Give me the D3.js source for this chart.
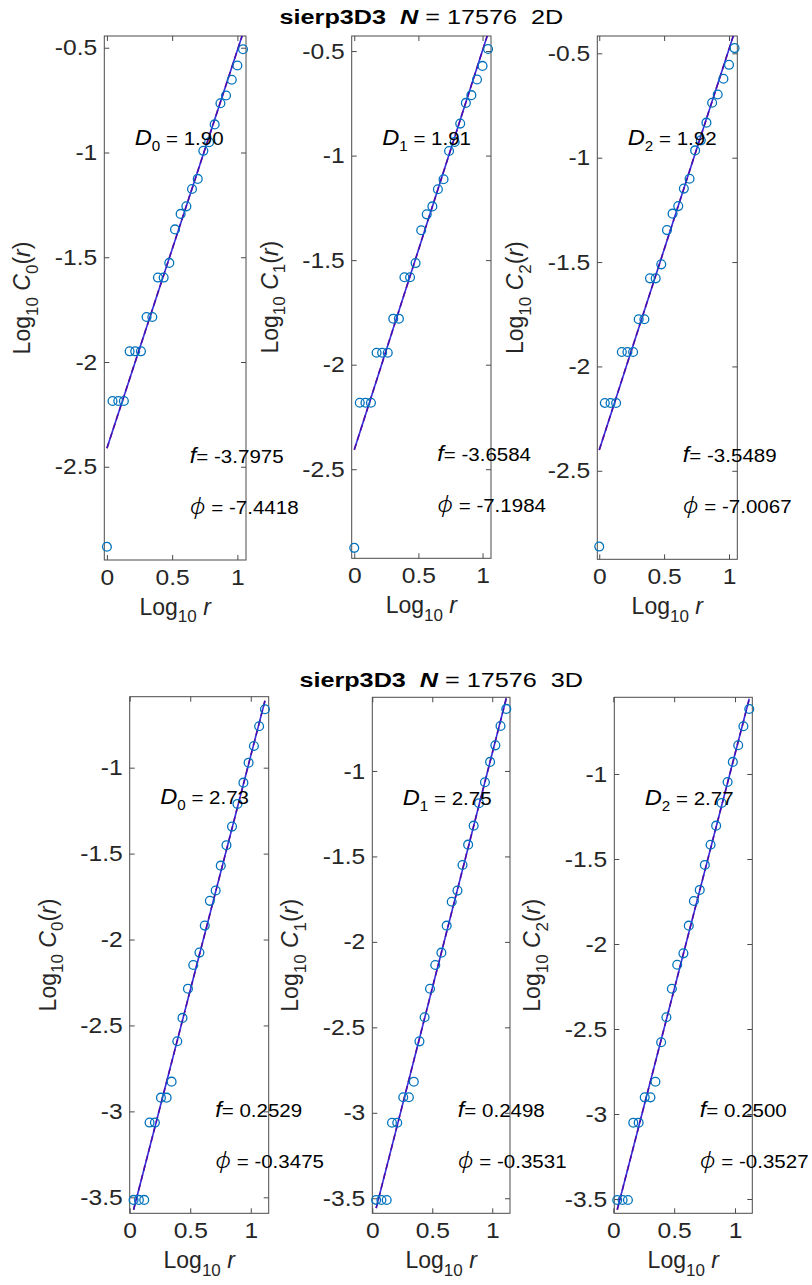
<!DOCTYPE html>
<html>
<head>
<meta charset="utf-8">
<script src="https://cdn.jsdelivr.net/npm/d3@7"></script>
<style>
  body { margin: 0; background: #ffffff; }
  svg { display: block; font-family: "Liberation Sans", Arial, Helvetica, sans-serif; }
</style>
</head>
<body>
<svg id="fig" width="812" height="1285"></svg>
<script>
// ---- data: log10 r and log10 C_q(r) for the sierp3D3 set ----
const logR2D = [0, 0.043, 0.087, 0.130, 0.174, 0.217, 0.261, 0.304, 0.348, 0.391, 0.435, 0.478, 0.522,
                0.565, 0.609, 0.652, 0.696, 0.739, 0.783, 0.826, 0.870, 0.913, 0.957, 1.000, 1.043];
const logC0_2D = [-2.882, -2.186, -2.186, -2.186, -1.949, -1.949, -1.949, -1.785, -1.785, -1.597, -1.597, -1.527, -1.367,
                  -1.293, -1.257, -1.174, -1.126, -0.992, -0.951, -0.866, -0.765, -0.728, -0.653, -0.585, -0.507];
const logC1_2D = [-2.876, -2.182, -2.182, -2.182, -1.943, -1.943, -1.943, -1.780, -1.780, -1.582, -1.582, -1.514, -1.357,
                  -1.281, -1.243, -1.161, -1.113, -0.978, -0.935, -0.847, -0.748, -0.711, -0.636, -0.571, -0.490];
const logC2_2D = [-2.863, -2.175, -2.175, -2.175, -1.931, -1.931, -1.931, -1.774, -1.774, -1.578, -1.578, -1.511, -1.347,
                  -1.268, -1.232, -1.148, -1.101, -0.965, -0.917, -0.832, -0.737, -0.697, -0.622, -0.555, -0.475];

const logR3D = [0.032, 0.076, 0.120, 0.164, 0.208, 0.258, 0.305, 0.346, 0.393, 0.436, 0.481, 0.525, 0.576,
                0.620, 0.662, 0.710, 0.752, 0.799, 0.845, 0.890, 0.939, 0.982, 1.026, 1.069, 1.117];
const logC0_3D = [-3.515, -3.515, -3.515, -3.065, -3.065, -2.920, -2.920, -2.827, -2.592, -2.456, -2.286, -2.148, -2.076,
                  -1.919, -1.775, -1.715, -1.570, -1.451, -1.343, -1.211, -1.087, -0.971, -0.874, -0.759, -0.660];
const logC1_3D = [-3.510, -3.510, -3.510, -3.058, -3.058, -2.909, -2.909, -2.818, -2.582, -2.441, -2.274, -2.135, -2.063,
                  -1.905, -1.765, -1.700, -1.550, -1.431, -1.320, -1.189, -1.066, -0.947, -0.850, -0.737, -0.637];
const logC2_3D = [-3.506, -3.506, -3.506, -3.051, -3.051, -2.902, -2.902, -2.810, -2.578, -2.431, -2.263, -2.122, -2.055,
                  -1.892, -1.747, -1.682, -1.535, -1.416, -1.304, -1.171, -1.047, -0.929, -0.831, -0.719, -0.618];

// fitted lines: log10 C_q = intercept + D_q * log10 r
const slopes2D = [1.90, 1.91, 1.92];
const intercepts2D = [-2.412, -2.407, -2.400];
const slopes3D = [2.73, 2.75, 2.77];
const intercepts3D = [-3.660, -3.646, -3.652];

const fLabels2D = ["-3.7975", "-3.6584", "-3.5489"];
const phiLabels2D = ["-7.4418", "-7.1984", "-7.0067"];
const fLabels3D = ["0.2529", "0.2498", "0.2500"];
const phiLabels3D = ["-0.3475", "-0.3531", "-0.3527"];

const qOrders = ["0", "1", "2"];
const setName = "sierp3D3";
const pointCount = "17576";

const xTicks = [0, 0.5, 1];
const xTickLabels = ["0", "0.5", "1"];
const yTicks2D = [-2.5, -2, -1.5, -1, -0.5];
const yTickLabels2D = ["-2.5", "-2", "-1.5", "-1", "-0.5"];
const yTicks3D = [-3.5, -3, -2.5, -2, -1.5, -1];
const yTickLabels3D = ["-3.5", "-3", "-2.5", "-2", "-1.5", "-1"];

// ---- layout ----
const svg = d3.select("#fig");
const INK = "#262626";
const MARKER = "#0072BD";
const TICK_SIZE = 22, TICK_SX = 1.12;
const LABEL_SIZE = 23;
const NOTE_SIZE = 19, NOTE_SX = 1.08;
const TITLE_SIZE = 21, TITLE_SX = 1.2;

const figures = [
  {
    tag: "2D", titleX: 421.4, titleY: 24,
    logR: logR2D, series: [logC0_2D, logC1_2D, logC2_2D],
    slopes: slopes2D, intercepts: intercepts2D,
    fLabels: fLabels2D, phiLabels: phiLabels2D,
    yTicks: yTicks2D, yTickLabels: yTickLabels2D,
    xDom: [[-0.02, 1.066], [-0.02, 1.066], [-0.015, 1.064]],
    frames: [
      { x: 104.3, y: 36, w: 141.7, h: 524.0, yDom: [-2.945, -0.444] },
      { x: 351.7, y: 36, w: 139.3, h: 522.3, yDom: [-2.926, -0.428] },
      { x: 597.3, y: 36, w: 140.0, h: 523.3, yDom: [-2.924, -0.417] }
    ]
  },
  {
    tag: "3D", titleX: 441.2, titleY: 686.7,
    logR: logR3D, series: [logC0_3D, logC1_3D, logC2_3D],
    slopes: slopes3D, intercepts: intercepts3D,
    fLabels: fLabels3D, phiLabels: phiLabels3D,
    yTicks: yTicks3D, yTickLabels: yTickLabels3D,
    xDom: [[0, 1.148], [0, 1.148], [0.008, 1.142]],
    frames: [
      { x: 129.7, y: 696.7, w: 139.0, h: 516.6, yDom: [-3.593, -0.587] },
      { x: 372.3, y: 697.3, w: 137.7, h: 516.0, yDom: [-3.588, -0.569] },
      { x: 614.3, y: 697.3, w: 138.0, h: 516.0, yDom: [-3.584, -0.549] }
    ]
  }
];

// Text built from styled runs; runs marked "sub" drop below the baseline.
function richText(parent, runs, o) {
  const size = o.size;
  const subShift = size * 0.32;
  const t = parent.append("text")
    .attr("font-size", size)
    .attr("fill", o.fill || INK)
    .attr("text-anchor", o.anchor || "start")
    .attr("transform", o.transform)
    .style("white-space", "pre");
  let down = false;
  runs.forEach(r => {
    const s = t.append("tspan").text(r.t);
    if (r.it) s.attr("font-style", "italic");
    if (r.b) s.attr("font-weight", "bold");
    if (r.w) s.attr("font-weight", r.w);
    if (r.size) s.attr("font-size", r.size);
    if (r.family) s.attr("font-family", r.family);
    if (r.sub) {
      s.attr("font-size", size * 0.74);
      if (!down) { s.attr("dy", subShift); down = true; }
    } else if (down) {
      s.attr("dy", -subShift); down = false;
    }
  });
  return t;
}

figures.forEach(fig => {
  // figure title over the middle panel
  richText(svg, [
    { t: setName, b: true },
    { t: "  " },
    { t: "N", b: true, it: true },
    { t: " = " + pointCount + "  " + fig.tag }
  ], { size: TITLE_SIZE, anchor: "middle", fill: "#000",
       transform: `translate(${fig.titleX},${fig.titleY}) scale(${TITLE_SX},1)` });

  fig.frames.forEach((fr, i) => {
    const g = svg.append("g").attr("transform", `translate(${fr.x},${fr.y})`);
    const x = d3.scaleLinear().domain(fig.xDom[i]).range([0, fr.w]);
    const y = d3.scaleLinear().domain(fr.yDom).range([fr.h, 0]);

    const clipId = `clip-${fig.tag}-${i}`;
    g.append("clipPath").attr("id", clipId)
      .append("rect").attr("width", fr.w).attr("height", fr.h);

    // axes with inward ticks on all four sides
    const styleAxis = sel => {
      sel.select(".domain").remove();
      sel.selectAll(".tick line").attr("stroke", "#4a4a4a").attr("stroke-width", 1);
    };
    g.append("g")
      .call(d3.axisLeft(y).tickValues(fig.yTicks).tickSizeInner(-5).tickSizeOuter(0).tickPadding(7)
        .tickFormat((d, k) => fig.yTickLabels[k]))
      .call(styleAxis)
      .call(sel => sel.selectAll("text")
        .attr("font-size", TICK_SIZE).attr("font-family", null).attr("fill", INK)
        .attr("x", -7 / TICK_SX).attr("transform", `scale(${TICK_SX},1)`));
    g.append("g").attr("transform", `translate(${fr.w},0)`)
      .call(d3.axisRight(y).tickValues(fig.yTicks).tickSizeInner(-5).tickSizeOuter(0).tickFormat(""))
      .call(styleAxis);
    g.append("g").attr("transform", `translate(0,${fr.h})`)
      .call(d3.axisBottom(x).tickValues(xTicks).tickSizeInner(-5).tickSizeOuter(0).tickPadding(9)
        .tickFormat((d, k) => xTickLabels[k]))
      .call(styleAxis)
      .call(sel => sel.selectAll("text")
        .attr("font-size", TICK_SIZE).attr("font-family", null).attr("fill", INK)
        .attr("transform", `scale(${TICK_SX},1)`));
    g.append("g")
      .call(d3.axisTop(x).tickValues(xTicks).tickSizeInner(-5).tickSizeOuter(0).tickFormat(""))
      .call(styleAxis);

    g.append("rect").attr("width", fr.w).attr("height", fr.h)
      .attr("fill", "none").attr("stroke", "#4a4a4a").attr("stroke-width", 1);

    // least-squares fit line, red dashed under blue solid
    const xr = fig.logR;
    const fitPts = [xr[0], xr[xr.length - 1]].map(v => [v, fig.intercepts[i] + fig.slopes[i] * v]);
    const line = d3.line().x(d => x(d[0])).y(d => y(d[1]));
    g.append("path").attr("clip-path", `url(#${clipId})`)
      .attr("d", line(fitPts)).attr("fill", "none")
      .attr("stroke", "#e0102a").attr("stroke-width", 1.6).attr("stroke-dasharray", "6,4");
    g.append("path").attr("clip-path", `url(#${clipId})`)
      .attr("d", line(fitPts)).attr("fill", "none")
      .attr("stroke", "#1a10d8").attr("stroke-width", 1.6).attr("stroke-opacity", 0.88);

    // measured points
    g.selectAll("circle.pt").data(fig.series[i]).join("circle")
      .attr("class", "pt")
      .attr("cx", (d, k) => x(xr[k]))
      .attr("cy", d => y(d))
      .attr("r", 4.4)
      .attr("fill", "none")
      .attr("stroke", MARKER)
      .attr("stroke-width", 1.3);

    // annotations
    richText(g, [
      { t: "D", it: true, size: NOTE_SIZE * 1.15 },
      { t: qOrders[i], sub: true },
      { t: " = " + fig.slopes[i].toFixed(2) }
    ], { size: NOTE_SIZE, transform: `translate(30.5,${fr.h * 0.208}) scale(${NOTE_SX},1)`, fill: "#000" });
    richText(g, [
      { t: "f", it: true, size: NOTE_SIZE * 1.15 },
      { t: "= " + fig.fLabels[i] }
    ], { size: NOTE_SIZE, transform: `translate(85.5,${fr.h * 0.814}) scale(${NOTE_SX},1)`, fill: "#000" });
    richText(g, [
      { t: "\u03D5", it: true, w: 300, size: NOTE_SIZE * 1.2, family: "'Noto Sans', 'DejaVu Sans', sans-serif" },
      { t: " = " + fig.phiLabels[i] }
    ], { size: NOTE_SIZE, transform: `translate(85.5,${fr.h * 0.912}) scale(${NOTE_SX},1)`, fill: "#000" });

    // axis titles
    richText(g, [
      { t: "Log" }, { t: "10", sub: true }, { t: " " },
      { t: "r", it: true }
    ], { size: LABEL_SIZE, anchor: "middle", transform: `translate(${fr.w / 2},${fr.h + 55})` });
    richText(g, [
      { t: "Log" }, { t: "10", sub: true }, { t: " " },
      { t: "C", it: true }, { t: qOrders[i], sub: true },
      { t: "(" }, { t: "r", it: true }, { t: ")" }
    ], { size: LABEL_SIZE, anchor: "middle", transform: `translate(-74,${fr.h / 2}) rotate(-90)` });
  });
});
</script>
</body>
</html>
